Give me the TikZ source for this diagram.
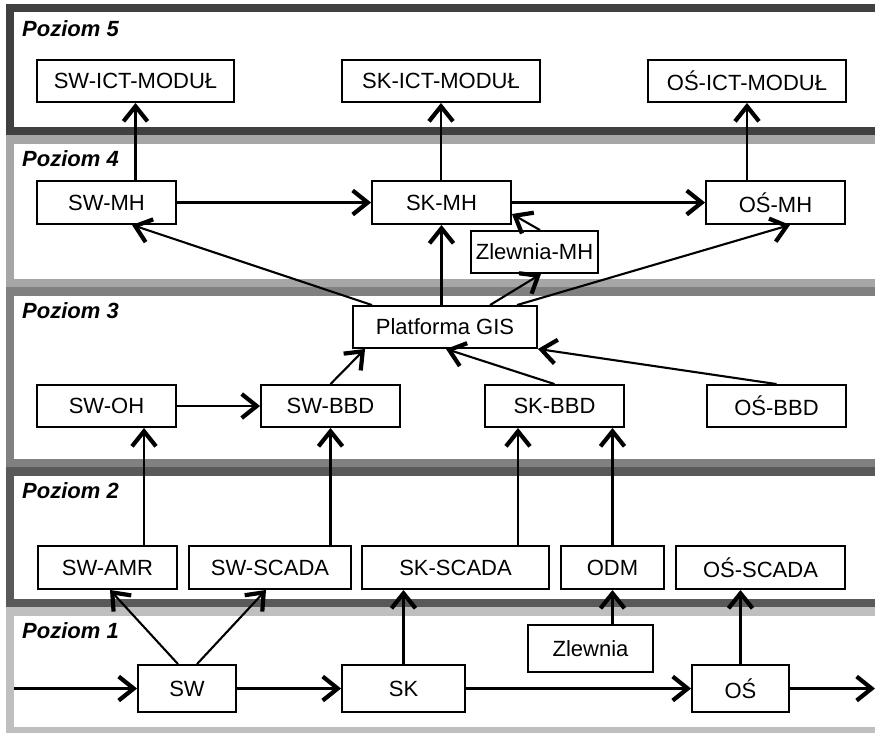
\documentclass[tikz,border=0pt]{standalone}
\usepackage{fontspec}
\setmainfont{Liberation Sans}
\usetikzlibrary{arrows.meta,calc}
\definecolor{cfive}{HTML}{404040}
\definecolor{cfour}{HTML}{A6A6A6}
\definecolor{cthree}{HTML}{808080}
\definecolor{ctwo}{HTML}{595959}
\definecolor{cone}{HTML}{BFBFBF}
\begin{document}
\begin{tikzpicture}[x=1pt,y=-1pt,
  box/.style={draw, line width=1.9pt, fill=white, inner sep=0pt, minimum height=42pt, font=\fontsize{22}{25}\selectfont},
  arr/.style={line width=2.1pt, -{Straight Barb[length=15pt,width=24pt,line width=4.2pt 0 0]}},
  lvlframe/.style={line width=8.5pt, fill=white},
  lvl/.style={anchor=base west, inner sep=0pt, font=\fontsize{22}{25}\selectfont\bfseries\itshape}]
\useasboundingbox (0,0) rectangle (875,732);
\clip (0,0) rectangle (875,732);
% level frames
\draw[lvlframe, draw=cone]   (10,611.25) rectangle (900,731.5);
\draw[lvlframe, draw=ctwo]   (10,471.25) rectangle (900,602.75);
\draw[lvlframe, draw=cthree] (10,291.25) rectangle (900,462.75);
\draw[lvlframe, draw=cfour]  (10,139.25) rectangle (900,282.75);
\draw[lvlframe, draw=cfive]  (10,7.75)   rectangle (900,131);
\node[lvl] (p5) at (22,36)  {Poziom 5};
\node[lvl] (p4) at (22,166) {Poziom 4};
\node[lvl] (p3) at (22,318) {Poziom 3};
\node[lvl] (p2) at (22,498) {Poziom 2};
\node[lvl] (p1) at (22,638) {Poziom 1};
% level 5
\node[box, minimum width=197pt] (ict1) at (135.5,81) {SW-ICT-MODUŁ};
\node[box, minimum width=198pt] (ict2) at (441,81)   {SK-ICT-MODUŁ};
\node[box, minimum width=198pt] (ict3) at (747,81)   {OŚ-ICT-MODUŁ};
% level 4
\node[box, minimum width=139pt, minimum height=43pt] (mh1) at (106.5,202.5) {SW-MH};
\node[box, minimum width=139pt, minimum height=43pt] (mh2) at (441.5,202.5) {SK-MH};
\node[box, minimum width=139pt, minimum height=43pt] (mh3) at (775.5,202.5) {OŚ-MH};
\node[box, minimum width=127pt] (zmh) at (534.5,252) {Zlewnia-MH};
% level 3
\node[box, minimum width=184pt] (gis) at (445,327) {Platforma GIS};
\node[box, minimum width=139pt] (oh)   at (106.5,406) {SW-OH};
\node[box, minimum width=139pt] (bbd1) at (330.5,406) {SW-BBD};
\node[box, minimum width=139pt] (bbd2) at (554.5,406) {SK-BBD};
\node[box, minimum width=139pt] (bbd3) at (776.5,406) {OŚ-BBD};
% level 2
\node[box, minimum width=139pt, minimum height=43pt] (amr)    at (107.5,567.5) {SW-AMR};
\node[box, minimum width=162pt, minimum height=43pt] (scada1) at (270,567.5)   {SW-SCADA};
\node[box, minimum width=187pt, minimum height=43pt] (scada2) at (455.5,567.5) {SK-SCADA};
\node[box, minimum width=103pt, minimum height=43pt] (odm)    at (612.5,567.5) {ODM};
\node[box, minimum width=169pt, minimum height=43pt] (scada3) at (760.5,567.5) {OŚ-SCADA};
% level 1
\node[box, minimum width=98pt,  minimum height=47pt] (sw) at (187,688.5)   {SW};
\node[box, minimum width=123pt, minimum height=47pt] (sk) at (403.5,688.5) {SK};
\node[box, minimum width=125pt, minimum height=47pt] (zl) at (590.5,648.5) {Zlewnia};
\node[box, minimum width=97pt,  minimum height=47pt] (os) at (740.5,688.5) {OŚ};
\coordinate (fin) at (14,688.5);
\coordinate (fout) at (875,688.5);
% connectors level 4 -> 5
\draw[arr] (mh1.north -| ict1.south) -- (ict1.south);
\draw[arr] (mh2.north -| ict2.south) -- (ict2.south);
\draw[arr] (mh3.north -| ict3.south) -- (ict3.south);
\draw[arr] (mh1.east) -- (mh2.west);
\draw[arr] (mh2.east) -- (mh3.west);
% level 3 -> 4
\draw[arr] ($(gis.north west)+(20,0)$) -- ($(mh1.south)+(25.5,0)$);
\draw[arr] (gis.north -| mh2.south) -- (mh2.south);
\draw[arr] ($(gis.north)+(45,0)$) -- ($(zmh.south)+(6.5,0)$);
\draw[arr] ($(gis.north)+(72,0)$) -- ($(mh3.south)+(14.5,0)$);
\draw[arr] ($(zmh.north)+(5.5,0)$) -- ($(mh2.east)+(0,11.5)$);
% level 3 internal
\draw[arr] (oh.east) -- (bbd1.west);
\draw[arr] (bbd1.north) -- ($(gis.south west)+(13,0)$);
\draw[arr] (bbd2.north) -- ($(gis.south)+(1,0)$);
\draw[arr] (bbd3.north) -- (gis.south east);
% level 2 -> 3
\coordinate (a1) at ($(amr.north)+(36.5,0)$);
\draw[arr] (a1) -- (a1 |- oh.south);
\draw[arr] (scada1.north -| bbd1.south) -- (bbd1.south);
\coordinate (a2) at ($(bbd2.south)+(-36.5,0)$);
\draw[arr] (a2 |- scada2.north) -- (a2);
\draw[arr] (odm.north) -- (odm.north |- bbd2.south);
% level 1 -> 2
\draw[arr] ($(sw.north)+(-9,0)$) -- ($(amr.south)+(2.5,0)$);
\draw[arr] ($(sw.north)+(10,0)$) -- ($(scada1.south)+(-4,0)$);
\draw[arr] (sk.north) -- (sk.north |- scada2.south);
\draw[arr] (zl.north -| odm.south) -- (odm.south);
\draw[arr] (os.north) -- (os.north |- scada3.south);
% flow
\draw[arr] (fin) -- (sw.west);
\draw[arr] (sw.east) -- (sk.west);
\draw[arr] (sk.east) -- (os.west);
\draw[arr] (os.east) -- (fout);
\end{tikzpicture}
\end{document}
